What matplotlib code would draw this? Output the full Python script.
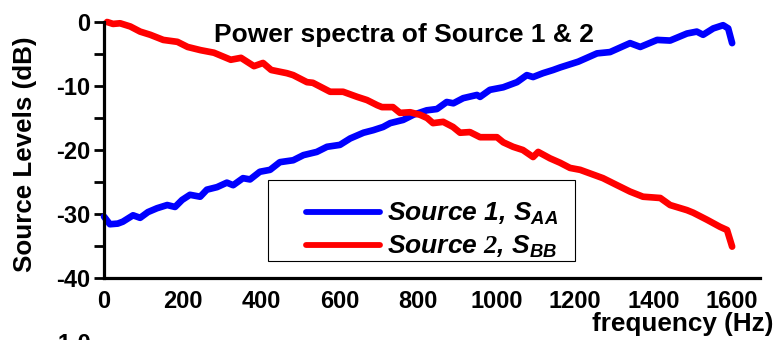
import matplotlib.pyplot as plt
from matplotlib.patches import Rectangle

plt.rcParams['font.family'] = ['Liberation Sans', 'DejaVu Sans']
plt.rcParams['font.weight'] = 'bold'
plt.rcParams['axes.unicode_minus'] = False
plt.rcParams['mathtext.fontset'] = 'custom'
plt.rcParams['mathtext.it'] = 'Liberation Sans:italic:bold'
plt.rcParams['mathtext.rm'] = 'Liberation Serif:italic'

# Source 1 (S_AA) power spectrum, dB
freq_a = [0, 15, 35, 48, 74, 92, 112, 135, 161, 181, 199, 219, 245, 262, 288, 313,
          329, 354, 372, 397, 423, 448, 482, 508, 542, 568, 601, 627, 661, 686, 711,
          729, 762, 788, 822, 848, 873, 890, 915, 950, 958, 983, 1017, 1052, 1077,
          1093, 1118, 1144, 1162, 1208, 1256, 1289, 1340, 1366, 1409, 1442, 1485,
          1510, 1526, 1552, 1577, 1590, 1600]
level_a = [-30.4, -31.6, -31.5, -31.2, -30.2, -30.6, -29.7, -29.1, -28.6, -28.9, -27.8,
           -27.0, -27.3, -26.2, -25.8, -25.1, -25.5, -24.4, -24.6, -23.4, -23.1, -21.9,
           -21.6, -20.8, -20.3, -19.5, -19.2, -18.2, -17.3, -16.9, -16.4, -15.8, -15.3,
           -14.5, -13.8, -13.6, -12.5, -12.7, -11.9, -11.4, -11.7, -10.6, -10.2, -9.4,
           -8.3, -8.6, -8.0, -7.5, -7.1, -6.2, -4.9, -4.7, -3.3, -3.9, -2.8, -2.9,
           -1.8, -1.5, -2.0, -1.0, -0.5, -1.0, -3.3]

# Source 2 (S_BB) power spectrum, dB
freq_b = [8, 23, 41, 67, 92, 118, 151, 187, 213, 246, 280, 323, 349, 382, 405, 426,
          466, 482, 517, 532, 576, 609, 645, 670, 696, 708, 736, 754, 780, 805, 823,
          838, 864, 889, 907, 932, 958, 1001, 1017, 1042, 1067, 1093, 1106, 1136,
          1162, 1187, 1213, 1271, 1307, 1340, 1373, 1417, 1442, 1485, 1501, 1536,
          1569, 1587, 1600]
level_b = [0.0, -0.3, -0.2, -0.7, -1.5, -2.0, -2.8, -3.1, -3.9, -4.4, -4.8, -5.9, -5.6,
           -6.9, -6.4, -7.5, -8.0, -8.3, -9.4, -9.5, -10.9, -10.9, -11.7, -12.2, -13.0,
           -13.3, -13.3, -14.2, -14.1, -14.5, -15.0, -15.8, -15.6, -16.4, -17.3, -17.2,
           -18.0, -18.0, -18.8, -19.5, -20.0, -21.1, -20.3, -21.3, -22.0, -22.8, -23.1,
           -24.4, -25.5, -26.5, -27.3, -27.5, -28.6, -29.4, -29.8, -30.9, -32.0, -32.5,
           -35.1]

xticks = [0, 200, 400, 600, 800, 1000, 1200, 1400, 1600]
yticks = [-40, -30, -20, -10, 0]
yminor = [-35, -25, -15, -5]

W, H = 776, 340
fig = plt.figure(figsize=(W / 100, H / 100), dpi=100)
ax = fig.add_axes([104 / W, 62 / H, 656 / W, 256 / H])

la, = ax.plot(freq_a, level_a, color='#0000ff', lw=4.8, clip_on=False,
              solid_capstyle='round', solid_joinstyle='round')
lb, = ax.plot(freq_b, level_b, color='#ff0000', lw=4.8, clip_on=False,
              solid_capstyle='round', solid_joinstyle='round')

ax.set_xlim(0, 1671)
ax.set_ylim(-40, 0)
for s in ['top', 'right']:
    ax.spines[s].set_visible(False)
for s in ['left', 'bottom']:
    ax.spines[s].set_linewidth(2.3)

ax.set_xticks(xticks)
ax.set_yticks(yticks)
ax.set_yticks(yminor, minor=True)
ax.tick_params(axis='x', length=0, pad=9, labelsize=17)
ax.tick_params(axis='y', which='both', direction='out', length=7, width=2,
               pad=3, labelsize=17)

fig.text(404 / W, 1 - 42 / H, 'Power spectra of Source 1 & 2', ha='center',
         va='baseline', fontsize=19, fontweight='bold')
fig.text(25 / W, 1 - 154 / H, 'Source Levels (dB)', rotation=90, ha='center',
         va='center', fontsize=18.7, fontweight='bold')
fig.text(773 / W, 1 - 331 / H, 'frequency (Hz)', ha='right', va='baseline',
         fontsize=18.8, fontweight='bold')
# top of the next panel's tick label, cut by the figure edge
fig.text(91 / W, 1 - 333 / H, '-1.0', ha='right', va='top', fontsize=17,
         fontweight='bold')

leg = ax.legend([la, lb], ['Source 1, S$_{AA}$', 'Source $\\mathrm{2}$, S$_{BB}$'],
                loc='upper left', bbox_to_anchor=(306 / W, 1 - 201 / H),
                bbox_transform=fig.transFigure, frameon=False,
                prop={'style': 'italic', 'weight': 'bold', 'size': 19},
                handlelength=2.8, handletextpad=0.27, labelspacing=0.25,
                borderpad=0, borderaxespad=0)
for h in leg.legend_handles:
    h.set_linewidth(4.2)
fig.add_artist(Rectangle((268 / W, 1 - 261 / H), (575 - 268) / W, (261 - 180) / H,
                         transform=fig.transFigure, fill=False, ec='black', lw=0.8))

fig.savefig('out.png', dpi=100)
